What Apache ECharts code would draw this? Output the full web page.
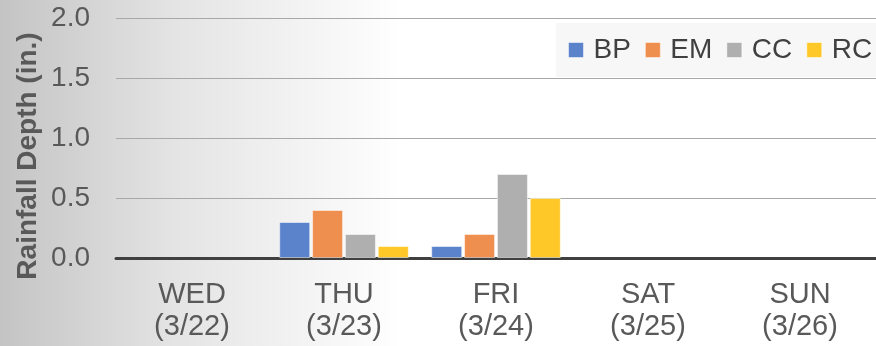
<!DOCTYPE html>
<html>
<head>
<meta charset="utf-8">
<script src="https://cdn.jsdelivr.net/npm/echarts@6/dist/echarts.min.js"></script>
<style>
  html, body { margin: 0; padding: 0; overflow: hidden; }
  #chart { width: 876px; height: 346px; }
</style>
</head>
<body>
<div id="chart"></div>
<script>
// Daily rainfall by gauge, Wed 3/22 through Sun 3/26
const days = ['WED\n(3/22)', 'THU\n(3/23)', 'FRI\n(3/24)', 'SAT\n(3/25)', 'SUN\n(3/26)'];
const seriesNames = ['BP', 'EM', 'CC', 'RC'];
const bpValues = [0, 0.3, 0.1, 0, 0];
const emValues = [0, 0.4, 0.2, 0, 0];
const ccValues = [0, 0.2, 0.7, 0, 0];
const rcValues = [0, 0.1, 0.5, 0, 0];
const yTicks = { min: 0, max: 2, interval: 0.5 };
const yTitle = 'Rainfall Depth (in.)';
const palette = ['#5b83cb', '#ef8f4f', '#afafaf', '#ffc829'];

const valueSets = [bpValues, emValues, ccValues, rcValues];
const font = '"Liberation Sans", Arial, sans-serif';

// zero-rain days get no outline so nothing shows on the baseline
const toItems = vals => vals.map(v => ({
  value: v,
  itemStyle: { borderWidth: v ? 1 : 0 }
}));

const chart = echarts.init(document.getElementById('chart'), null, { renderer: 'canvas' });
chart.setOption({
  animation: false,
  backgroundColor: new echarts.graphic.LinearGradient(0, 0, 1, 0, [
    { offset: 0, color: '#c4c4c4' },
    { offset: 0.2, color: '#e4e4e4' },
    { offset: 0.46, color: '#ffffff' },
    { offset: 1, color: '#ffffff' }
  ]),
  textStyle: { fontFamily: font },
  grid: { left: 116, right: -6, top: 18, bottom: 88, containLabel: false },
  legend: {
    data: seriesNames,
    left: 556,
    top: 23,
    width: 360,
    padding: [12, 10, 12, 12],
    backgroundColor: '#f7f7f7',
    itemWidth: 15,
    itemHeight: 15,
    itemGap: 14,
    icon: 'rect',
    itemStyle: { borderWidth: 1, borderColor: 'rgba(255,255,255,0.5)' },
    textStyle: { fontFamily: font, fontSize: 28, color: '#404040', lineHeight: 30, padding: [0, 0, 0, 5] }
  },
  // rotated axis title, placed beside the tick labels
  graphic: [{
    type: 'text',
    x: 28,
    y: 156,
    rotation: Math.PI / 2,
    style: {
      text: yTitle,
      fontFamily: font,
      fontSize: 28,
      fontWeight: 'bold',
      fill: '#595959',
      align: 'center',
      verticalAlign: 'middle'
    }
  }],
  xAxis: {
    type: 'category',
    data: days,
    axisTick: { show: false },
    axisLine: { show: true, lineStyle: { color: '#404040', width: 3 } },
    axisLabel: { fontFamily: font, fontSize: 29, color: '#595959', lineHeight: 32, margin: 21 }
  },
  yAxis: {
    type: 'value',
    min: yTicks.min,
    max: yTicks.max,
    interval: yTicks.interval,
    axisLine: { show: false },
    axisTick: { show: false },
    axisLabel: {
      fontFamily: font, fontSize: 28, color: '#595959', margin: 26,
      formatter: v => v.toFixed(1)
    },
    splitLine: { lineStyle: { color: '#a8a8a8', width: 1 } }
  },
  series: seriesNames.map((name, i) => ({
    name,
    type: 'bar',
    data: toItems(valueSets[i]),
    barWidth: 31,
    barGap: '6%',
    itemStyle: { color: palette[i], borderColor: 'rgba(255,255,255,0.5)' }
  }))
});
</script>
</body>
</html>
